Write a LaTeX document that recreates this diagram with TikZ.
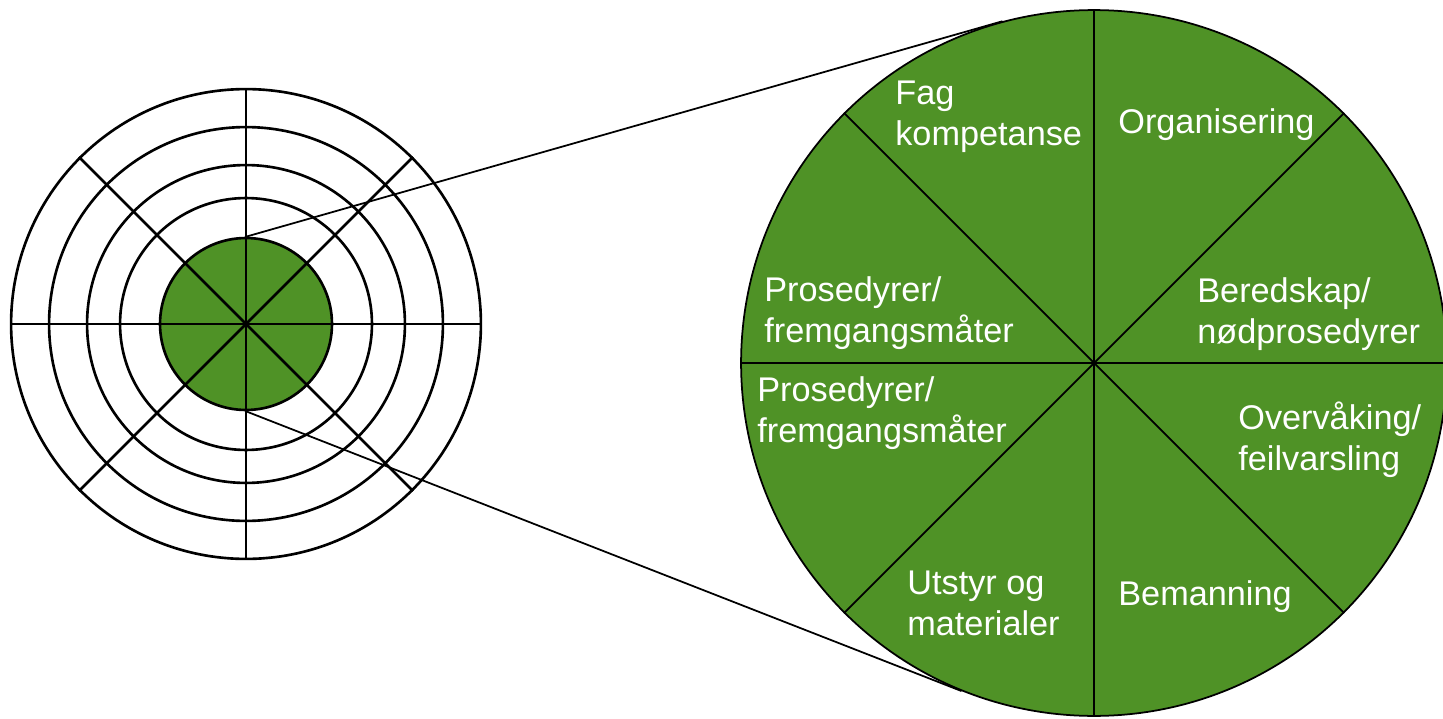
\documentclass[tikz,border=0pt]{standalone}
\usepackage{fontspec}
\setmainfont{Liberation Sans}
\usepackage{tikz}
\definecolor{leaf}{RGB}{79,146,38}

\begin{document}
\begin{tikzpicture}[x=0.02cm,y=0.02cm,
    ring/.style={circle,draw,line width=1.5pt,inner sep=0pt},
    slice/.style={white,anchor=base west,align=left,inner sep=0pt,font=\fontsize{19.5}{22.8}\selectfont}]
          \useasboundingbox (0,0) rectangle (1443,718);
          % target rings
          \foreach \r [count=\i] in {235,197,159,126}
            \node[ring,minimum size=\r*0.04cm] (ring\i) at (246,394) {};
          % green core
          \node[ring,fill=leaf,minimum size=3.44cm] (core) at (246,394) {};
          % spokes of the target
          \foreach \a in {0,45,...,315}
            \draw[line width=1.5pt] (core.center) -- (ring1.\a);
          % enlarged core
          \node[circle,draw,line width=1pt,fill=leaf,inner sep=0pt,minimum size=14.12cm] (zoom) at (1094,355) {};
          \foreach \a in {0,45,...,315}
            \draw[line width=1pt] (zoom.center) -- (zoom.\a);
          % lines between core and enlarged core
          \draw[line width=1pt] (core.north) -- (zoom.105.7);
          \draw[line width=1pt] (core.south) -- (zoom.248.6);
          % slice labels (base = last line)
          \node[slice] (fag) at (895,573) {Fag\\kompetanse};
          \node[slice] (org) at (1118,584) {Organisering};
          \node[slice] (bered) at (1197,375) {Beredskap/\\nødprosedyrer};
          \node[slice] (overv) at (1238,248) {Overvåking/\\feilvarsling};
          \node[slice] (beman) at (1118,113) {Bemanning};
          \node[slice] (utstyr) at (907,83) {Utstyr og\\materialer};
          \node[slice] (pros2) at (757,276) {Prosedyrer/\\fremgangsmåter};
          \node[slice] (pros1) at (764,376) {Prosedyrer/\\fremgangsmåter};
        \end{tikzpicture}
\end{document}
